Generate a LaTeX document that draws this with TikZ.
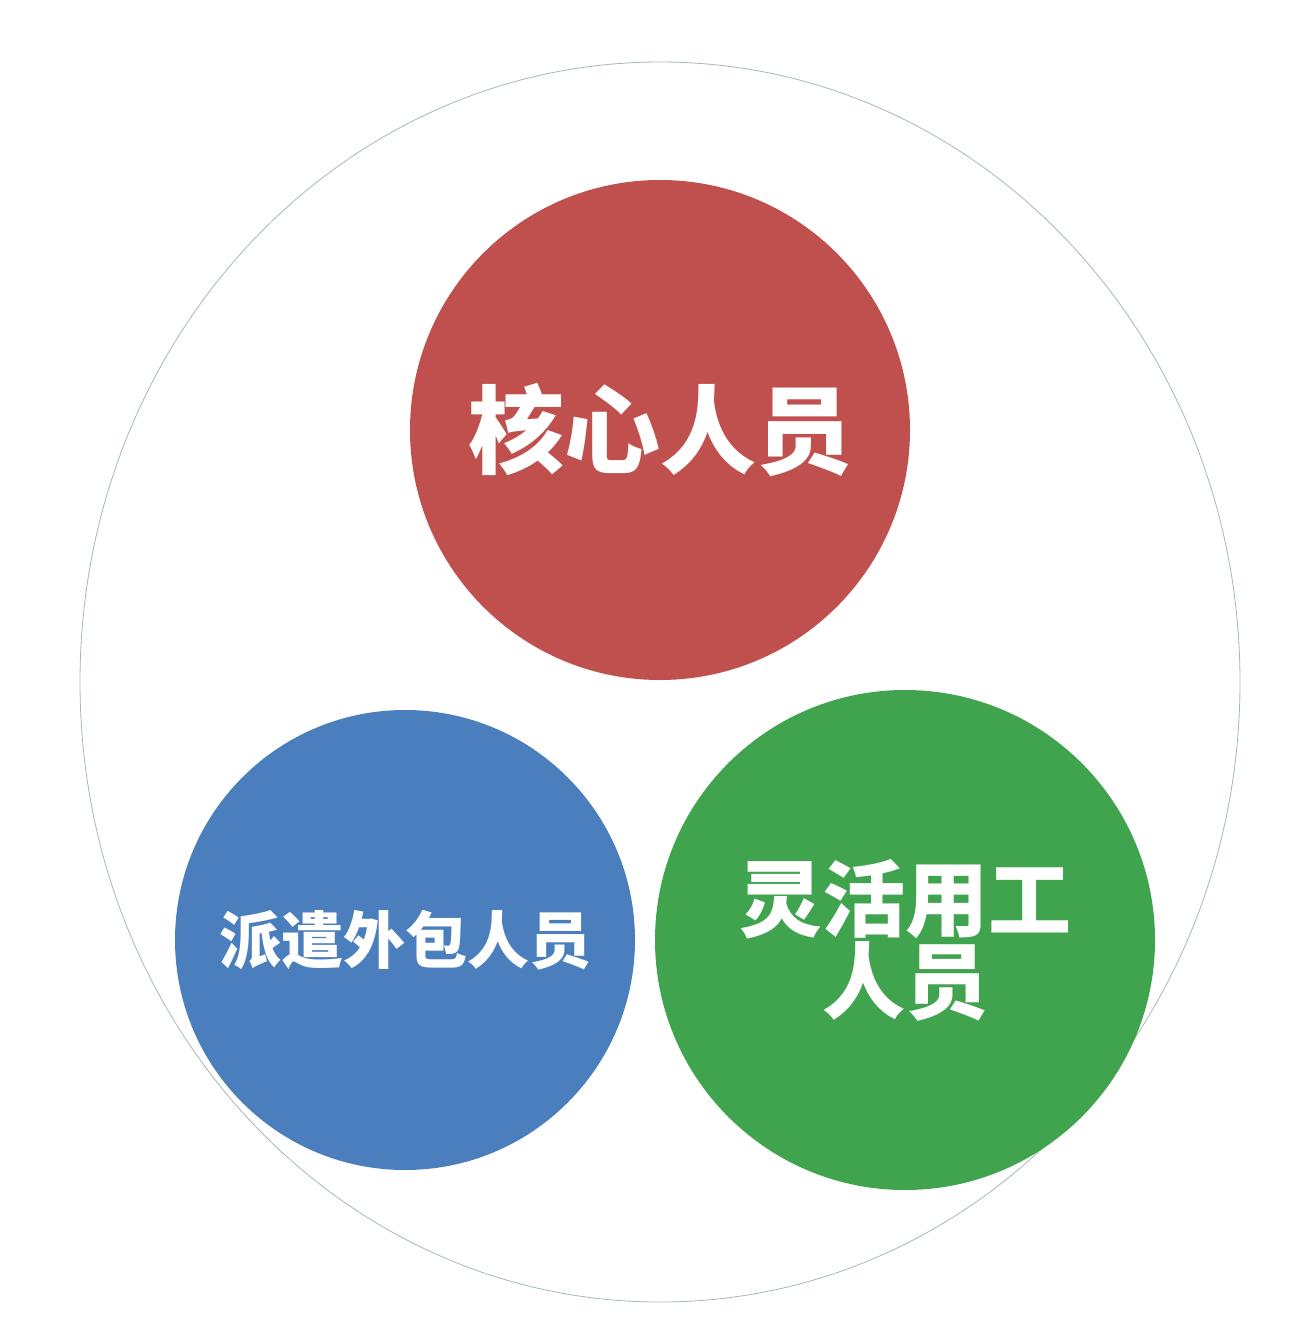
\documentclass[tikz,border=0pt]{standalone}
\usepackage{fontspec}
\newfontfamily\cjk{Noto Sans CJK SC}
\usepackage{tikz}
\usetikzlibrary{shapes.geometric}
\definecolor{corered}{HTML}{C0504D}
\definecolor{dispblue}{HTML}{4A7EBD}
\definecolor{flexgreen}{HTML}{40A34E}
\definecolor{ringgray}{HTML}{A3B9B2}
\tikzstyle{ring} = [ellipse, draw=ringgray, line width=0.8pt, minimum width=1160pt, minimum height=1240pt, inner sep=0pt]
\tikzstyle{group} = [circle, inner sep=0pt, text=white, align=center, font=\cjk\bfseries]

\begin{document}
\begin{tikzpicture}[x=1pt, y=-1pt]
               \useasboundingbox (0,0) rectangle (1296,1344);
               \node [ring] at (660,682) (all) {};
               \node [group, fill=corered, minimum size=500pt, font=\cjk\bfseries\fontsize{96}{104}\selectfont] at (660,430) (core) {核心人员};
               \node [group, fill=dispblue, minimum size=460pt, font=\cjk\bfseries\fontsize{62}{68}\selectfont] at (405,940) (dispatch) {派遣外包人员};
               \node [group, fill=flexgreen, minimum size=500pt, font=\cjk\bfseries\fontsize{83}{82}\selectfont] at (905,940) (flex) {灵活用工\\人员};
               \end{tikzpicture}
\end{document}
